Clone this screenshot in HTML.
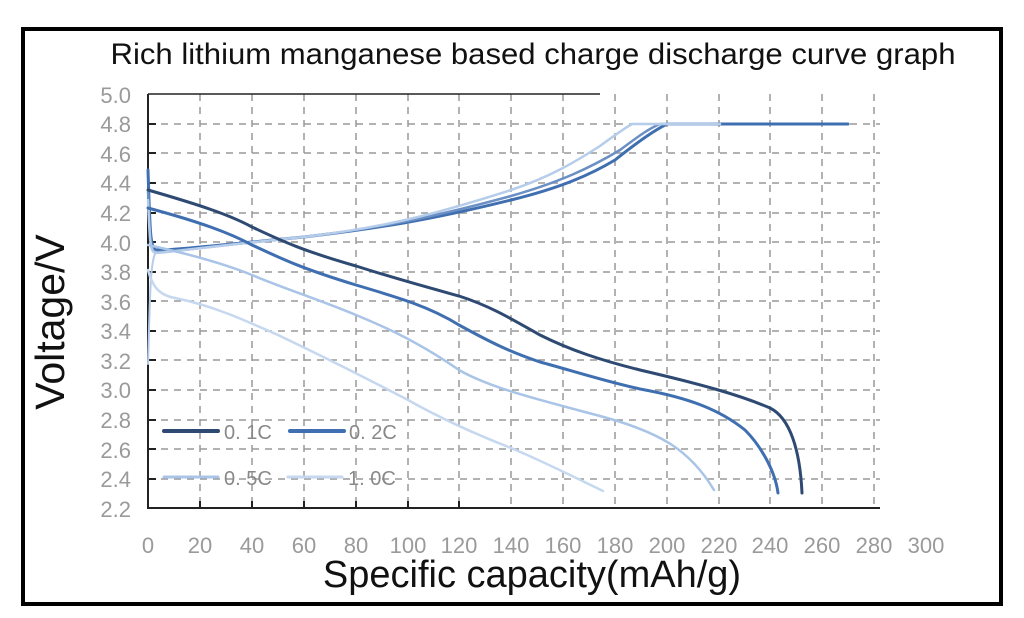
<!DOCTYPE html>
<html><head><meta charset="utf-8"><style>
body{margin:0;background:#fff;width:1024px;height:618px;overflow:hidden}
svg{display:block;font-family:"Liberation Sans",Arial,sans-serif}
</style></head><body>
<svg width="1024" height="618" viewBox="0 0 1024 618" xmlns="http://www.w3.org/2000/svg">
<rect x="23" y="29" width="978" height="575" fill="#fff" stroke="#000" stroke-width="4"/>
<text x="533" y="64" font-size="30" text-anchor="middle" fill="#111" textLength="845" lengthAdjust="spacingAndGlyphs">Rich lithium manganese based charge discharge curve graph</text>
<g stroke="#999" stroke-width="1.5" stroke-dasharray="7,6" fill="none">
<path d="M200,94V508M252,94V508M304,94V508M356,94V508M408,94V508M459,94V508M511,94V508M563,94V508M615,94V508M667,94V508M719,94V508M770,94V508M822,94V508M874,94V508"/>
<path d="M148,124H880M148,153H880M148,183H880M148,213H880M148,242H880M148,272H880M148,301H880M148,331H880M148,360H880M148,390H880M148,420H880M148,449H880M148,479H880"/>
</g>
<path d="M148,94V508H880" stroke="#222" stroke-width="2" fill="none"/>
<path d="M148,94H600" stroke="#222" stroke-width="1.5"/>
<g stroke="#222" stroke-width="2">
<path d="M148,124h8M148,153h8M148,183h8M148,213h8M148,242h8M148,272h8M148,301h8M148,331h8M148,360h8M148,390h8M148,420h8M148,449h8M148,479h8"/>
<path d="M200,508v-7M252,508v-7M304,508v-7M356,508v-7M408,508v-7M459,508v-7"/>
</g>
<g font-size="22" fill="#9a9a9a" text-anchor="end">
<text x="131" y="103">5.0</text><text x="131" y="132">4.8</text><text x="131" y="162">4.6</text><text x="131" y="191">4.4</text><text x="131" y="221">4.2</text><text x="131" y="251">4.0</text><text x="131" y="280">3.8</text><text x="131" y="310">3.6</text><text x="131" y="339">3.4</text><text x="131" y="369">3.2</text><text x="131" y="398">3.0</text><text x="131" y="428">2.8</text><text x="131" y="458">2.6</text><text x="131" y="487">2.4</text><text x="131" y="517">2.2</text>
</g>
<g font-size="22" fill="#9a9a9a" text-anchor="middle">
<text x="148" y="553">0</text><text x="200" y="553">20</text><text x="252" y="553">40</text><text x="304" y="553">60</text><text x="356" y="553">80</text><text x="408" y="553">100</text><text x="459" y="553">120</text><text x="511" y="553">140</text><text x="563" y="553">160</text><text x="615" y="553">180</text><text x="667" y="553">200</text><text x="719" y="553">220</text><text x="770" y="553">240</text><text x="822" y="553">260</text><text x="874" y="553">280</text><text x="926" y="553">300</text>
</g>
<text x="532" y="587" font-size="38" text-anchor="middle" fill="#111">Specific capacity(mAh/g)</text>
<text transform="translate(64,322) rotate(-90)" font-size="41" text-anchor="middle" fill="#111">Voltage/V</text>
<g fill="none" stroke-linecap="round" stroke-linejoin="round">
<path d="M148,170C150,230 150,248 156,250C175,250 210,246 304,237C380,228 430,220 511,200C560,188 590,175 615,160C640,140 655,130 667,124H848" stroke="#3f6fb0" stroke-width="3"/>
<path d="M148,190C150,240 150,250 156,252C175,252 210,246 304,237C380,228 430,218 511,196C560,182 590,168 620,150C640,135 650,128 660,124H710" stroke="#6a8fc4" stroke-width="2.5"/>
<path d="M148,200C150,245 150,252 156,253C175,252 210,246 304,237C380,228 430,216 511,190C550,177 575,162 600,146C615,135 625,128 632,124H720" stroke="#b5cdea" stroke-width="2.5"/>
<path d="M148,364C150,300 150,260 156,252" stroke="#b5cdea" stroke-width="2"/>
<path d="M148,190C200,205 230,215 252,227C280,240 300,250 356,266C400,280 430,288 459,296C490,306 510,318 540,335C570,350 600,360 640,370C700,384 740,395 770,408C790,418 800,450 802,493" stroke="#2e4a73" stroke-width="3"/>
<path d="M148,208C200,222 230,233 252,245C280,258 300,268 356,285C400,298 430,307 459,325C490,342 510,352 540,362C570,370 600,380 640,389C690,398 720,410 745,430C760,445 775,470 778,493" stroke="#3f6fb0" stroke-width="3"/>
<path d="M148,245C180,252 220,262 252,275C280,287 320,300 356,315C400,333 430,350 459,370C490,388 540,400 600,416C660,432 690,450 714,490" stroke="#a9c4e6" stroke-width="2.5"/>
<path d="M148,270C152,285 158,295 175,298C210,305 240,318 278,335C320,355 360,375 408,400C440,418 470,432 511,448C540,460 570,475 603,491" stroke="#c5d8ef" stroke-width="2.5"/>
<path d="M164,431H218" stroke="#2e4a73" stroke-width="4"/>
<path d="M290,431H344" stroke="#3f6fb0" stroke-width="4"/>
<path d="M164,477H218" stroke="#a9c4e6" stroke-width="3"/>
<path d="M288,477H342" stroke="#c5d8ef" stroke-width="3"/>
</g>
<g font-size="20" fill="#888">
<text x="224" y="439">0. 1C</text><text x="349" y="439">0. 2C</text>
<text x="224" y="485">0. 5C</text><text x="348" y="485">1. 0C</text>
</g>
</svg>
</body></html>
